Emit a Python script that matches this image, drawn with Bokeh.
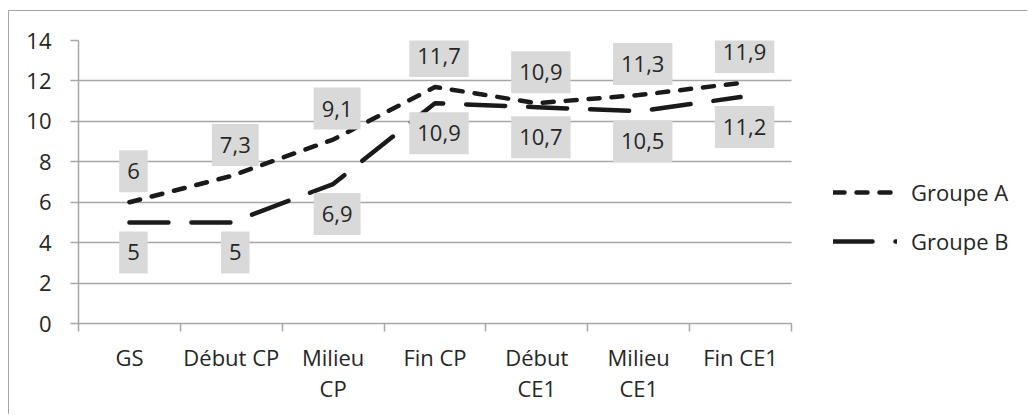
from bokeh.plotting import figure
from bokeh.models import ColumnDataSource, FixedTicker, Legend, LegendItem, Range1d
from bokeh.core.properties import value
from bokeh.embed import file_html
from bokeh.resources import INLINE

categories = ["GS", "Début CP", "Milieu\nCP", "Fin CP", "Début\nCE1", "Milieu\nCE1", "Fin CE1"]
groupe_a = [6, 7.3, 9.1, 11.7, 10.9, 11.3, 11.9]
groupe_b = [5, 5, 6.9, 10.9, 10.7, 10.5, 11.2]
y_ticks = [0, 2, 4, 6, 8, 10, 12, 14]
series_names = ["Groupe A", "Groupe B"]

FONT = "Open Sans"
TXT = "#262626"
GRID = "#a6a6a6"

W, H = 1019, 404
LEFT, TOP, BOTTOM = 69, 29, 92
CAT_W = 713  # pixel width of the category area (plot area)
FRAME_W = W - LEFT
n = len(categories)
x_end = n * FRAME_W / CAT_W

x = [i + 0.5 for i in range(n)]
fmt = lambda v: f"{v:g}".replace(".", ",")

p = figure(width=W, height=H, x_range=Range1d(0, x_end),
           y_range=Range1d(y_ticks[0], y_ticks[-1]),
           output_backend="svg", toolbar_location=None,
           min_border_left=LEFT, min_border_right=0, min_border_top=TOP, min_border_bottom=BOTTOM)
p.outline_line_color = None
p.background_fill_color = "white"
p.border_fill_color = "white"
p.styles = {"margin-left": "8px", "margin-top": "10px",
            "border-top": "1px solid #a6a6a6", "border-left": "1px solid #a6a6a6"}

p.xgrid.visible = False
p.ygrid.ticker = FixedTicker(ticks=y_ticks)
p.ygrid.grid_line_color = GRID
p.ygrid.grid_line_width = 1.5
p.ygrid.cross_bounds = (0, n)

p.yaxis.ticker = FixedTicker(ticks=y_ticks)
p.yaxis.axis_line_color = GRID
p.yaxis.axis_line_width = 1.5
p.yaxis.major_tick_line_color = GRID
p.yaxis.major_tick_line_width = 1.5
p.yaxis.major_tick_out = 8
p.yaxis.major_tick_in = 0
p.yaxis.minor_tick_line_color = None
p.yaxis.major_label_standoff = 19
p.yaxis.major_label_text_font = FONT
p.yaxis.major_label_text_font_size = "22px"
p.yaxis.major_label_text_color = TXT

p.xaxis.bounds = (0, n)
p.xaxis.ticker = FixedTicker(ticks=x, minor_ticks=list(range(n + 1)))
p.xaxis.major_label_overrides = {xi: c for xi, c in zip(x, categories)}
p.xaxis.axis_line_color = GRID
p.xaxis.axis_line_width = 1.5
p.xaxis.major_tick_out = 0
p.xaxis.major_tick_in = 0
p.xaxis.minor_tick_out = 8
p.xaxis.minor_tick_in = 0
p.xaxis.minor_tick_line_color = GRID
p.xaxis.minor_tick_line_width = 1.5
p.xaxis.major_label_standoff = 10
p.xaxis.major_label_text_font = FONT
p.xaxis.major_label_text_font_size = "22px"
p.xaxis.major_label_text_line_height = 1.05
p.xaxis.major_label_text_color = TXT

src_a = ColumnDataSource(dict(x=x, y=groupe_a, t=[fmt(v) for v in groupe_a]))
src_b = ColumnDataSource(dict(x=x, y=groupe_b, t=[fmt(v) for v in groupe_b]))

ra = p.line("x", "y", source=src_a, line_color="#1a1a1a", line_width=4.5,
            line_dash="11 12", line_cap="round", line_join="round")
rb = p.line("x", "y", source=src_b, line_color="#1a1a1a", line_width=4.5,
            line_dash="39 23", line_cap="round", line_join="round")

for src, yo in ((src_a, 31), (src_b, -30)):
    p.text(x="x", y="y", text="t", source=src, x_offset=4, y_offset=-yo,
           text_align="center", text_baseline="middle",
           text_font=value(FONT), text_font_size="22px", text_color=TXT,
           background_fill_color="#d9d9d9", padding=(8, 13))

legend = Legend(items=[LegendItem(label=series_names[0], renderers=[ra]),
                       LegendItem(label=series_names[1], renderers=[rb])],
                location=(755, 67), glyph_width=64, glyph_height=30, label_height=30,
                spacing=19, padding=0, margin=0, border_line_color=None,
                background_fill_alpha=0, label_standoff=14,
                label_text_font=FONT, label_text_font_size="22px", label_text_color=TXT)
p.add_layout(legend)

open("out.html", "w").write(file_html(p, INLINE))
